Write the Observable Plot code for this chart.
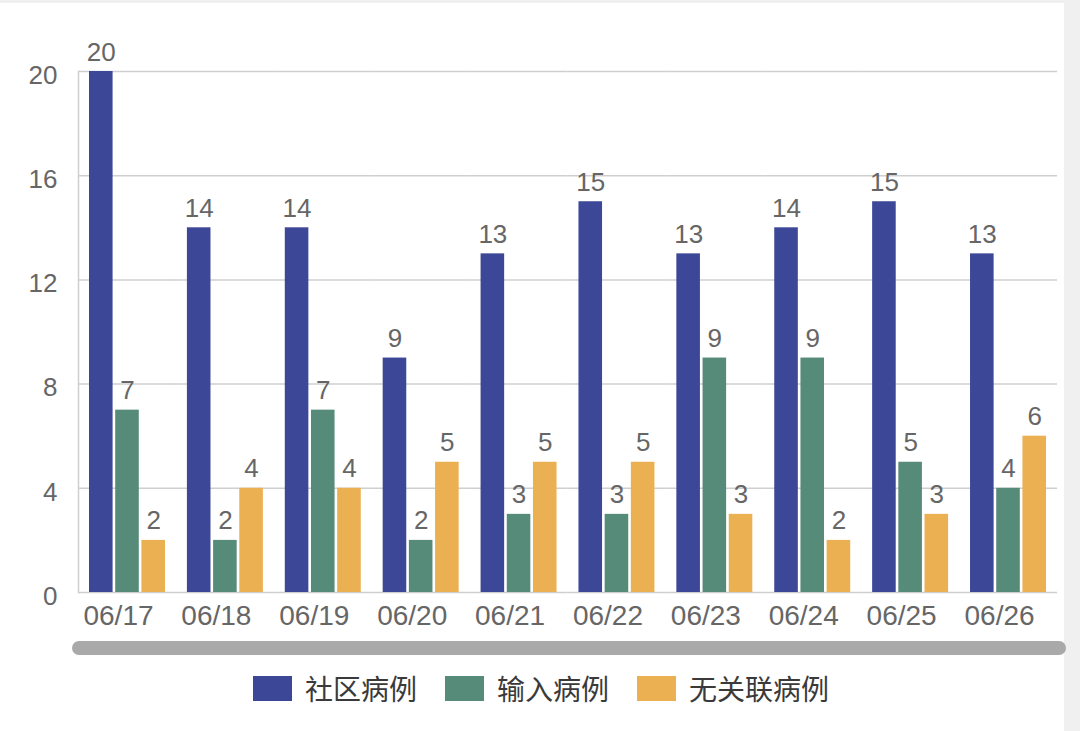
<!DOCTYPE html>
<html>
<head>
<meta charset="utf-8">
<script src="https://cdn.jsdelivr.net/npm/d3@7"></script>
<script src="https://cdn.jsdelivr.net/npm/@observablehq/plot@0.6"></script>
<style>
  html, body { margin: 0; padding: 0; background: #f0f0f0; }
  #card { position: absolute; left: 0; top: 3px; width: 1064px; height: 728px; background: #fff; }
  #chart { position: absolute; left: 0; top: 0; }
  #scroll { position: absolute; left: 72px; top: 638px; width: 994px; height: 14px; background: #a9a9a9; border-radius: 7px; }
  #legend { position: absolute; left: 0; top: 665px; height: 40px; width: 1082px; display: flex; justify-content: center; align-items: center;
            font-family: "Noto Sans CJK SC", "Liberation Sans", sans-serif; font-size: 28px; color: #3a3a3a; }
  .item { display: flex; align-items: center; margin: 0 14px; }
  .sw { width: 39px; height: 25px; margin-right: 13px; }
</style>
</head>
<body>
<div id="card">
  <div id="chart"></div>
  <div id="scroll"></div>
  <div id="legend"></div>
</div>
<script>
const dates = ["06/17","06/18","06/19","06/20","06/21","06/22","06/23","06/24","06/25","06/26"];
const seriesNames = ["社区病例","输入病例","无关联病例"];
const seriesColors = ["#3c4797","#578b79","#eab052"];
const community = [20,14,14,9,13,15,13,14,15,13];
const imported  = [7,2,7,2,3,3,9,9,5,4];
const unlinked  = [2,4,4,5,5,5,3,2,3,6];
const yTicks = [0,4,8,12,16,20];

const values = [community, imported, unlinked];
const data = [];
dates.forEach((d, i) => {
  seriesNames.forEach((s, j) => data.push({date: d, series: s, value: values[j][i]}));
});

const gap = 11; // half the gap between groups, so grid lines join up
const chart = Plot.plot({
  width: 1064,
  height: 630,
  marginLeft: 80,
  marginRight: 9,
  marginTop: 68,
  marginBottom: 41,
  style: {fontFamily: "'Liberation Sans', Arial, sans-serif", background: "transparent"},
  fx: {domain: dates, paddingInner: 0.224, paddingOuter: 0.092, round: false, label: null},
  x: {domain: seriesNames, axis: null, paddingInner: 0.1, paddingOuter: 0, round: false},
  y: {domain: [0, 20], label: null},
  color: {domain: seriesNames, range: seriesColors},
  marks: [
    Plot.ruleY(yTicks, {stroke: "#cfcfcf", strokeWidth: 1.5, insetLeft: -gap, insetRight: -gap}),
    Plot.frame({anchor: "left", facetAnchor: "left", stroke: "#cfcfcf", strokeWidth: 1.5, insetLeft: -gap}),
    Plot.axisY(yTicks, {tickSize: 0, tickPadding: 32, fontSize: 26, fill: "#666", dy: 4, label: null}),
    Plot.barY(data, {fx: "date", x: "series", y: "value", fill: "series"}),
    Plot.text(data, {fx: "date", x: "series", y: "value", text: "value", lineAnchor: "bottom", dy: -11, fontSize: 26, fill: "#666"}),
    Plot.axisFx({anchor: "bottom", tickSize: 0, tickPadding: 13, fontSize: 28, fill: "#666", dx: -9, label: null})
  ]
});
document.getElementById("chart").appendChild(chart);

const legend = document.getElementById("legend");
seriesNames.forEach((s, i) => {
  const item = document.createElement("div");
  item.className = "item";
  const sw = document.createElement("div");
  sw.className = "sw";
  sw.style.background = seriesColors[i];
  const t = document.createElement("span");
  t.textContent = s;
  item.appendChild(sw);
  item.appendChild(t);
  legend.appendChild(item);
});
</script>
</body>
</html>
